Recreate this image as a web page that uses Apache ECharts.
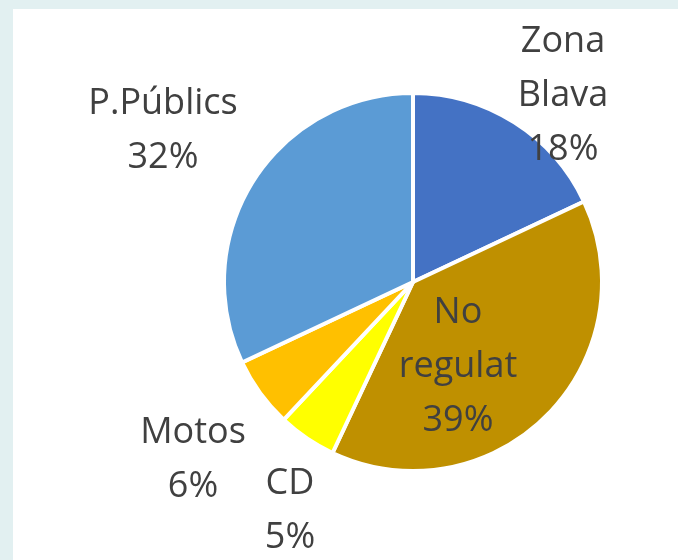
<!DOCTYPE html>
<html>
<head>
<meta charset="utf-8">
<script src="https://cdn.jsdelivr.net/npm/echarts@6/dist/echarts.min.js"></script>
<style>
  html, body { margin: 0; padding: 0; background: #E2F0F1; }
  #frame { position: absolute; left: 0; top: 0; width: 678px; height: 560px; background: #E2F0F1; }
  #chart { position: absolute; left: 13px; top: 9px; width: 665px; height: 551px; background: #ffffff; }
</style>
</head>
<body>
<div id="frame"><div id="chart"></div></div>
<script>
// Data
const categories = ["Zona Blava", "No regulat", "CD", "Motos", "P.Públics"];
const values = [18, 39, 5, 6, 32];
const colors = ["#4472C4", "#BF9000", "#FFFF00", "#FFC000", "#5B9BD5"];

// Layout (chart-container pixel coords)
const CX = 400, CY = 273, R = 189;
const labelOffsets = [[150, -186], [45, 85], [-123, 229], [-220, 178], [-250, -151]];

const chart = echarts.init(document.getElementById('chart'), null, { renderer: 'canvas' });
chart.setOption({
  animation: false,
  series: [{
    type: 'pie',
    center: [CX, CY],
    radius: [0, R],
    startAngle: 90,
    clockwise: true,
    avoidLabelOverlap: false,
    emphasis: { disabled: true },
    itemStyle: { borderColor: '#ffffff', borderWidth: 4 },
    label: {
      show: true,
      position: 'inside',
      formatter: p => p.name.replace(' ', '\n') + '\n' + Math.round(p.percent) + '%',
      fontFamily: 'Open Sans',
      fontSize: 36,
      lineHeight: 54,
      color: '#404040',
      align: 'center',
      verticalAlign: 'middle'
    },
    labelLine: { show: false },
    labelLayout: function (params) {
      const o = labelOffsets[params.dataIndex];
      return { x: CX + o[0], y: CY + o[1], align: 'center', verticalAlign: 'middle' };
    },
    data: categories.map((c, i) => ({ name: c, value: values[i], itemStyle: { color: colors[i] } }))
  }]
});
</script>
</body>
</html>
